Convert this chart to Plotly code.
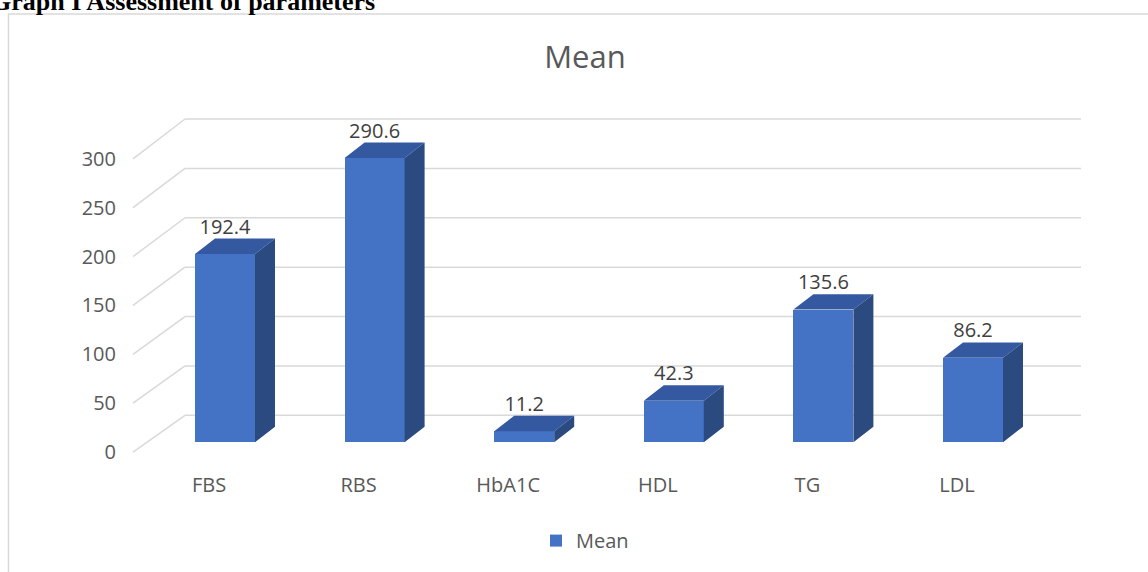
import plotly.graph_objects as go

# ---------------- data ----------------
categories = ["FBS", "RBS", "HbA1C", "HDL", "TG", "LDL"]
mean_values = [192.4, 290.6, 11.2, 42.3, 135.6, 86.2]
y_tick_values = [0, 50, 100, 150, 200, 250, 300]
y_tick_labels = ["0", "50", "100", "150", "200", "250", "300"]
series_name = "Mean"
chart_title = "Mean"
page_heading = "Graph I Assessment of parameters"

# ---------------- geometry / style ----------------
W, H = 1148, 572
L, R, T, B = 117, 1100, 100, 468
CAT_PX = 149.6      # px per category
CAT0_PX = 209       # px of first category centre (front plane)
Y_PX = 0.983        # px per value unit (front plane)
Y0_PX = 454         # px of value 0 (front plane)
BACK_Y0_PX = 417    # back wall zero line
BACK_Y_PX = 0.993   # back wall scale

XMIN = (L - CAT0_PX) / CAT_PX
XMAX = (R - CAT0_PX) / CAT_PX
YMAX = (Y0_PX - T) / Y_PX
YMIN = (Y0_PX - B) / Y_PX


def dx(px):
    return px / CAT_PX


def dy(px):
    return px / Y_PX


def paper_x(px):
    return (px - L) / (R - L)


def paper_y(py):
    return (B - py) / (B - T)


BAR_LEFT = dx(-14)
BAR_W = dx(60)
BAR_BASE = dy(10)
DEPTH_X = dx(20)
DEPTH_Y = dy(15.5)

FRONT_COLOR = "#4472C4"
TOP_COLOR = "#3459A0"
SIDE_COLOR = "#2B4A80"
GRID_COLOR = "#D9D9D9"
TEXT_COLOR = "#595959"
LABEL_COLOR = "#404040"
FONT = "Open Sans"

fig = go.Figure()

# front faces
fig.add_trace(go.Bar(
    x=list(range(len(categories))), y=mean_values, base=BAR_BASE,
    offset=BAR_LEFT, width=BAR_W, name=series_name,
    marker=dict(color=FRONT_COLOR, line=dict(width=0)),
    showlegend=True, hoverinfo="skip",
))

# top and side faces
top_x, top_y, side_x, side_y = [], [], [], []
for i, v in enumerate(mean_values):
    x0 = i + BAR_LEFT
    x1 = x0 + BAR_W
    top = BAR_BASE + v
    top_x += [x0, x1, x1 + DEPTH_X, x0 + DEPTH_X, x0, None]
    top_y += [top, top, top + DEPTH_Y, top + DEPTH_Y, top, None]
    side_x += [x1, x1, x1 + DEPTH_X, x1 + DEPTH_X, x1, None]
    side_y += [BAR_BASE, top, top + DEPTH_Y, BAR_BASE + DEPTH_Y, BAR_BASE, None]

fig.add_trace(go.Scatter(x=top_x, y=top_y, mode="lines", fill="toself",
                         fillcolor=TOP_COLOR, line=dict(width=0, color=TOP_COLOR),
                         showlegend=False, hoverinfo="skip"))
fig.add_trace(go.Scatter(x=side_x, y=side_y, mode="lines", fill="toself",
                         fillcolor=SIDE_COLOR, line=dict(width=0, color=SIDE_COLOR),
                         showlegend=False, hoverinfo="skip"))

# data labels
fig.add_trace(go.Scatter(
    x=[i + BAR_LEFT + BAR_W / 2 for i in range(len(mean_values))],
    y=[BAR_BASE + v + DEPTH_Y for v in mean_values],
    mode="text", text=[f"{v}" for v in mean_values], textposition="top center",
    textfont=dict(family=FONT, size=20, color=LABEL_COLOR),
    showlegend=False, hoverinfo="skip", cliponaxis=False,
))

# 3D gridlines: floor diagonals + back wall lines
shapes = []
fx = dx(133 - CAT0_PX)
bx0 = dx(185 - CAT0_PX)
bx1 = dx(1081 - CAT0_PX)
for v in y_tick_values:
    back_y = (Y0_PX - (BACK_Y0_PX - BACK_Y_PX * v)) / Y_PX
    shapes.append(dict(type="line", xref="x", yref="y", x0=fx, y0=v, x1=bx0, y1=back_y,
                       line=dict(color=GRID_COLOR, width=1.5), layer="below"))
    shapes.append(dict(type="line", xref="x", yref="y", x0=bx0, y0=back_y, x1=bx1, y1=back_y,
                       line=dict(color=GRID_COLOR, width=1.5), layer="below"))

# chart border
shapes.append(dict(type="rect", xref="paper", yref="paper",
                   x0=paper_x(8.5), x1=paper_x(1170), y0=paper_y(590), y1=paper_y(13.5),
                   line=dict(color=GRID_COLOR, width=1.5), fillcolor="rgba(0,0,0,0)",
                   layer="below"))

fig.update_layout(
    width=W, height=H, autosize=False,
    margin=dict(l=L, r=W - R, t=T, b=H - B, pad=0),
    paper_bgcolor="white", plot_bgcolor="white",
    shapes=shapes,
    title=dict(text=chart_title, x=585 / W, y=1 - 57 / H, xref="container", yref="container",
               xanchor="center", yanchor="middle",
               font=dict(family=FONT, size=31, color=TEXT_COLOR)),
    xaxis=dict(range=[XMIN, XMAX], tickvals=list(range(len(categories))), ticktext=categories,
               showgrid=False, zeroline=False, showline=False, ticks="",
               ticklabelstandoff=5,
               tickfont=dict(family=FONT, size=20, color=TEXT_COLOR), fixedrange=True),
    yaxis=dict(range=[YMIN, YMAX], tickvals=y_tick_values, ticktext=y_tick_labels,
               showgrid=False, zeroline=False, showline=False, ticks="",
               tickfont=dict(family=FONT, size=20, color=TEXT_COLOR), fixedrange=True),
    legend=dict(orientation="h", x=paper_x(585), xanchor="center",
                y=paper_y(543), yanchor="middle",
                font=dict(family=FONT, size=20, color=TEXT_COLOR)),
    annotations=[dict(text=f"<b>{page_heading}</b>", xref="paper", yref="paper",
                      x=paper_x(-11), y=paper_y(1), xanchor="left", yanchor="middle",
                      showarrow=False,
                      font=dict(family="Liberation Serif", size=26, color="black"))],
    bargap=0,
)

fig.write_html("out.html")
